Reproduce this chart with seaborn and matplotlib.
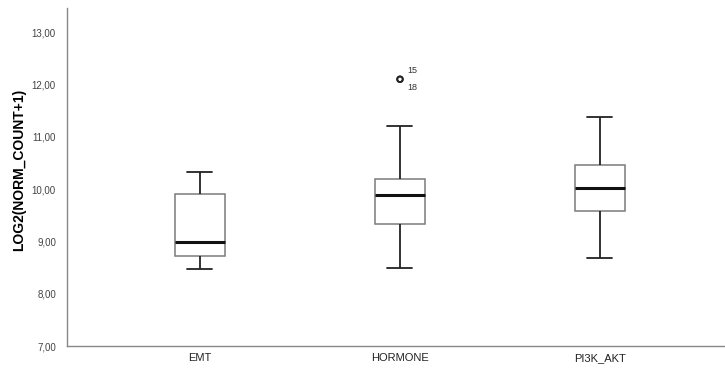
import pandas as pd
import matplotlib
matplotlib.use("Agg")
import matplotlib.pyplot as plt
from matplotlib.ticker import FuncFormatter
import seaborn as sns

# five-number summaries (whisker low, Q1, median, Q3, whisker high)
groups = ["EMT", "HORMONE", "PI3K_AKT"]
whisker_low = [8.47, 8.49, 8.69]
q1 = [8.72, 9.33, 9.59]
median = [8.98, 9.89, 10.03]
q3 = [9.90, 10.20, 10.47]
whisker_high = [10.32, 11.21, 11.38]

# outliers (HORMONE cases 15 and 18, sitting on top of each other)
outlier_group = ["HORMONE", "HORMONE"]
outlier_value = [12.10, 12.10]
outlier_case = ["15", "18"]

rows = []
for i, g in enumerate(groups):
    for v in (whisker_low[i], q1[i], median[i], q3[i], whisker_high[i]):
        rows.append({"group": g, "value": v})
df = pd.DataFrame(rows)

sns.set_style("white")
plt.rcParams["font.family"] = ["Liberation Sans", "DejaVu Sans"]

fig = plt.figure(figsize=(7.25, 3.69), dpi=100)
ax = fig.add_axes([0.0924, 0.0623, 0.9076, 0.9157])

sns.boxplot(data=df, x="group", y="value", order=groups, width=0.25,
            color="white", linewidth=1.0, showfliers=False, ax=ax,
            boxprops=dict(edgecolor="#7a7a7a", linewidth=1.1),
            medianprops=dict(color="#111111", linewidth=2.2),
            whiskerprops=dict(color="#222222", linewidth=1.3),
            capprops=dict(color="#222222", linewidth=1.3))

pos = {g: i for i, g in enumerate(groups)}
ox = [pos[g] for g in outlier_group]
ax.scatter(ox, outlier_value, s=16, facecolors="none", edgecolors="#222222",
           linewidths=1.3, zorder=5)
ax.annotate(outlier_case[0], (ox[0], outlier_value[0]), xytext=(5, 3),
            textcoords="offset points", fontsize=6.5, color="#333333",
            va="bottom", ha="left")
ax.annotate(outlier_case[1], (ox[1], outlier_value[1]), xytext=(5, -3),
            textcoords="offset points", fontsize=6.5, color="#333333",
            va="top", ha="left")

ax.set_xlim(-0.665, 2.625)
ax.set_ylim(7.0, 13.46)
ax.set_yticks([7, 8, 9, 10, 11, 12, 13])
ax.yaxis.set_major_formatter(FuncFormatter(lambda v, p: f"{v:.2f}".replace(".", ",")))

ax.set_xlabel("")
ax.set_ylabel("LOG2(NORM_COUNT+1)", fontsize=10, fontweight="bold", color="black")
ax.yaxis.set_label_coords(-0.062, 0.52)
ax.tick_params(axis="y", length=0, pad=8, labelsize=7, labelcolor="#444444")
ax.tick_params(axis="x", length=0, pad=5, labelsize=8, labelcolor="#222222")

for side in ("top", "right"):
    ax.spines[side].set_visible(False)
for side in ("left", "bottom"):
    ax.spines[side].set_color("#888888")
    ax.spines[side].set_linewidth(1.0)

fig.savefig("out.png", dpi=100)
